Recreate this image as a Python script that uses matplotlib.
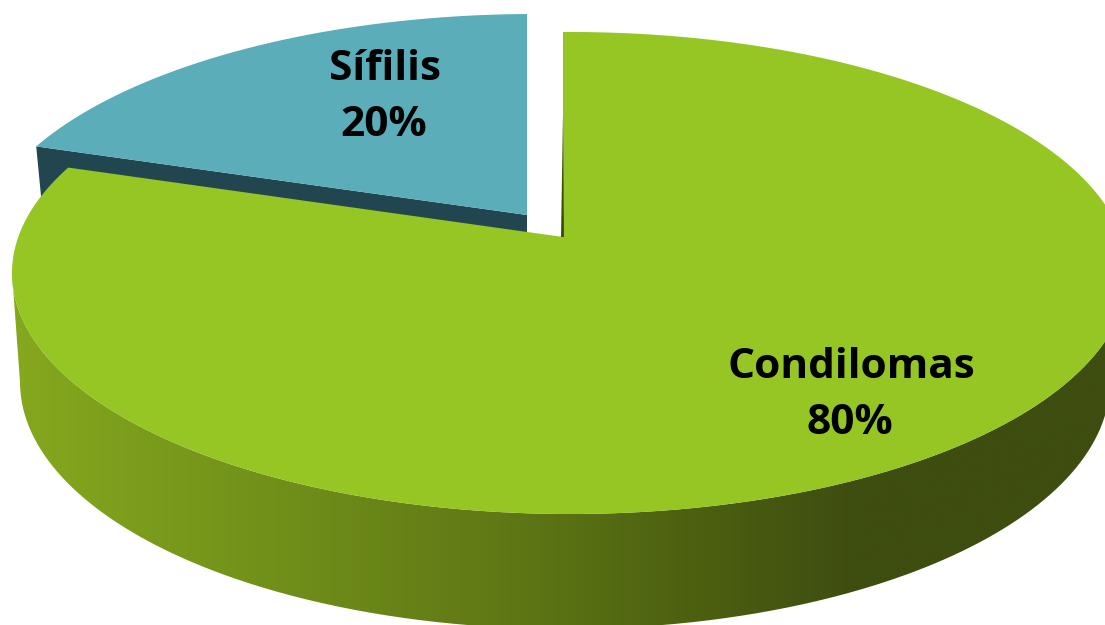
import numpy as np
import matplotlib
matplotlib.use("Agg")
import matplotlib.pyplot as plt
from matplotlib.colors import LinearSegmentedColormap
from matplotlib.patches import PathPatch, Polygon
from matplotlib.path import Path

categories = ["Condilomas", "Sífilis"]
values = [80, 20]

W, H = 1105, 625
GREEN, TEAL, DARK_TEAL = "#95C623", "#5AADB9", "#22464F"

fig = plt.figure(figsize=(W / 100, H / 100), dpi=100)
ax = fig.add_axes([0, 0, 1, 1])


class Disc:
    """Top face of a slice seen in perspective: the apex sits above the ellipse centre."""

    def __init__(self, cx, cy, rx, ry, apex):
        self.cx, self.cy, self.rx, self.ry = cx, cy, rx, ry
        self.apex = np.array(apex, float)
        self.a = np.array([(apex[0] - cx) / rx, (cy - apex[1]) / ry])

    def rim(self, theta):
        """theta in degrees, clockwise from straight up."""
        t = np.radians(theta)
        d = np.array([np.sin(t), np.cos(t)])
        ad = self.a @ d
        s = -ad + np.sqrt(ad ** 2 - (self.a @ self.a - 1))
        p = self.a + s * d
        return np.array([self.cx + self.rx * p[0], self.cy - self.ry * p[1]])

    def sector(self, start, end, n=400):
        pts = [self.rim(t) for t in np.linspace(start, end, n)]
        return np.vstack([self.apex, pts])


sweep = [v / sum(values) * 360 for v in values]
main = Disc(570, 273, 558, 241, (563, 237))
side = Disc(535, 254, 558, 240, (527, 215))

# Sífilis slice (pulled out behind the main one)
s_start, s_end = sweep[0], 360
rim_left = side.rim(s_start)
wall = [rim_left, side.apex, side.apex + [0, 20], rim_left + [6, 62]]
ax.add_patch(Polygon(wall, closed=True, fc=DARK_TEAL, ec="none", zorder=1))
ax.add_patch(Polygon(side.sector(s_start, s_end), closed=True, fc=TEAL, ec="none", zorder=2))

# Outer wall of the main slice, shaded left to right
low_cx, low_cy, low_rx, low_ry = 565, 382, 545, 247
rim_pts = np.array([main.rim(t) for t in np.linspace(sweep[0], 90, 600)])
rim_pts = rim_pts[rim_pts[:, 0] >= 0]
i_left = rim_pts[:, 0].argmin()
top_front = rim_pts[i_left:]
phi = np.linspace(0, np.pi, 400)
low = np.column_stack([low_cx - low_rx * np.cos(phi), low_cy + low_ry * np.sin(phi)])
outline = np.vstack([top_front, low[::-1]])
clip = PathPatch(Path(np.vstack([outline, outline[0]])), fc="none", ec="none", transform=ax.transData)
ax.add_patch(clip)

stops = [(0.0, "#86A81E"), (0.27, "#6E8C19"), (0.45, "#5F7815"), (0.62, "#4C6010"), (0.77, "#3E4D10"), (1.0, "#3E4D10")]
cmap = LinearSegmentedColormap.from_list("wall", stops)
im = ax.imshow(np.linspace(0, 1, 1105)[None, :], extent=(12, 1115, 640, 200), cmap=cmap,
               aspect="auto", zorder=3, interpolation="bilinear")
im.set_clip_path(clip)

# Top face of the main slice
ax.add_patch(Polygon(main.sector(0, sweep[0]), closed=True, fc=GREEN, ec="none", zorder=4))

# Thin shaded inner edge next to the gap
edge_top = main.apex + (main.rim(0) - main.apex) * 0.6
ax.add_patch(Polygon([edge_top, main.apex + [1, 0], main.apex + [-2, 0]], closed=True,
                     fc="#3E4D10", ec="none", zorder=5))

# Labels
font = dict(family="Open Sans", fontweight="bold", color="black", fontsize=30.5,
            ha="center", va="center", zorder=6)
label_pos = [((851, 367), (850, 423)), ((385, 70), (384, 126))]
for name, v, (p1, p2) in zip(categories, values, label_pos):
    ax.text(*p1, name, **font)
    ax.text(*p2, f"{v}%", **font)

ax.set_xlim(0, W)
ax.set_ylim(H, 0)
ax.axis("off")
fig.savefig("out.png", dpi=100, facecolor="white")
